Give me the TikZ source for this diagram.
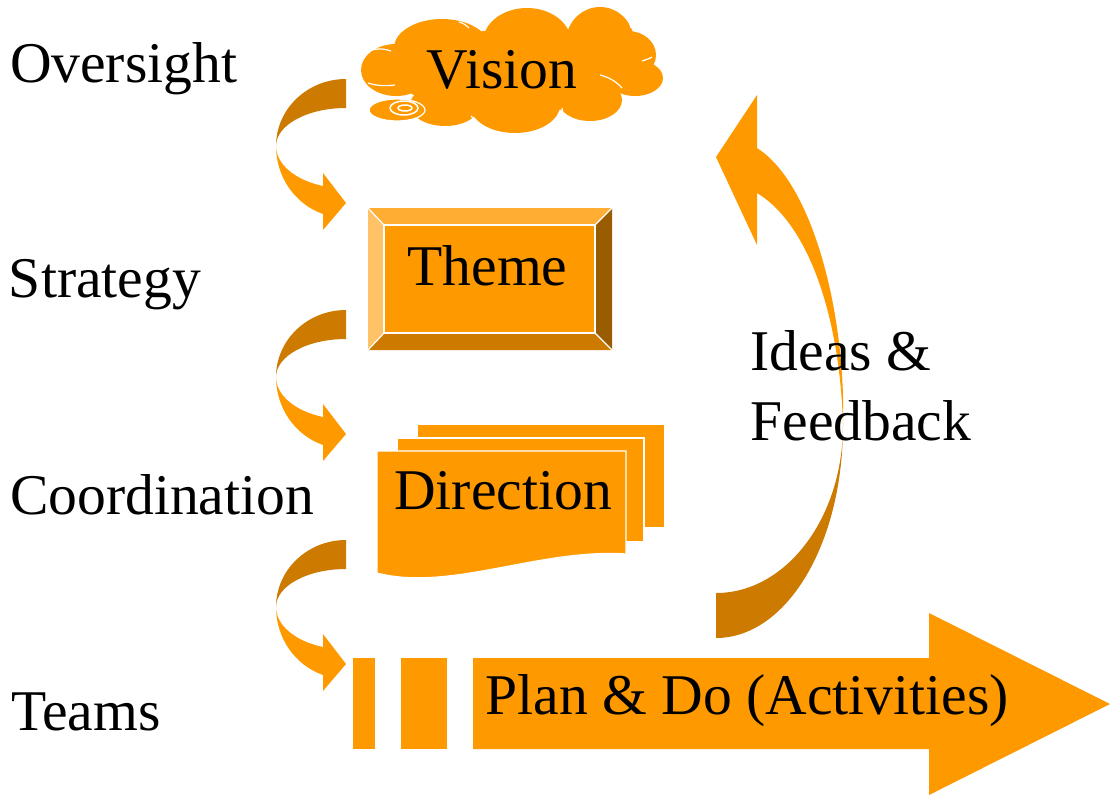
\documentclass[tikz,border=0pt]{standalone}
\usepackage{fontspec}
\setmainfont{Liberation Serif}
\definecolor{org}{RGB}{255,153,0}
\definecolor{orgdark}{RGB}{204,122,0}
\definecolor{orgtop}{RGB}{255,173,51}
\definecolor{orgleft}{RGB}{255,194,102}
\definecolor{orgright}{RGB}{153,92,0}
\begin{document}
\begin{tikzpicture}[x=1pt,y=-1pt,
  lbl/.style={inner sep=0pt, outer sep=0pt, font=\fontsize{57.6}{70}\selectfont},
  wline/.style={draw=white, line width=1.2pt},
  puff/.style={fill=org}]
\useasboundingbox (0,0) rectangle (1110,796);

% ---------- cloud (Vision) ----------
\fill[puff] (510,72) ellipse [x radius=115, y radius=42];
\fill[puff] (396,70) ellipse [x radius=35, y radius=26];
\fill[puff] (442,48) ellipse [x radius=48, y radius=29];
\fill[puff] (527,42) ellipse [x radius=44, y radius=34];
\fill[puff] (600,42) ellipse [x radius=34, y radius=35];
\fill[puff] (628,55) ellipse [x radius=28, y radius=24];
\fill[puff] (635,78) ellipse [x radius=28, y radius=18];
\fill[puff] (590,100) ellipse [x radius=32, y radius=21];
\fill[puff] (515,105) ellipse [x radius=45, y radius=28];
\fill[puff] (445,105) ellipse [x radius=35, y radius=21];
\filldraw[fill=org, wline] (397,110) ellipse [x radius=28, y radius=11];
\draw[wline, line width=1.5pt] (404,108) ellipse [x radius=14, y radius=7];
\draw[wline, line width=1.5pt] (405,108) ellipse [x radius=7, y radius=3];
% inner cloud arcs
\draw[wline] (368,83) .. controls (377,86) and (386,86) .. (395,85);
\draw[wline] (372,50) .. controls (379,48) and (385,49) .. (391,51);
\draw[wline] (459,22) .. controls (463,23) and (466,25) .. (469,28);
\draw[wline] (560,13) .. controls (563,15) and (565,17) .. (566,20);
\draw[wline] (627,19) .. controls (629,21) and (630,24) .. (631,28);
\draw[wline] (642,61) .. controls (645,60) and (649,59) .. (652,57);
\draw[wline] (600,75) .. controls (608,77) and (616,81) .. (622,88);
\draw[wline] (562,108) .. controls (563,111) and (563,114) .. (563,118);
\draw[wline] (471,116) .. controls (473,118) and (475,120) .. (477,123);
\node[lbl, anchor=base] (vision) at (502,88) {Vision};

% ---------- Theme (bevel) ----------
\fill[orgtop] (368,208) -- (612,208) -- (595,225) -- (384,225) -- cycle;
\fill[orgleft] (368,208) -- (384,225) -- (384,333) -- (368,350) -- cycle;
\fill[orgright] (612,208) -- (612,350) -- (595,333) -- (595,225) -- cycle;
\fill[orgdark] (368,350) -- (612,350) -- (595,333) -- (384,333) -- cycle;
\fill[org] (384,225) rectangle (595,333);
\draw[wline] (384,225) rectangle (595,333);
\draw[wline] (368,208) -- (384,225) (612,208) -- (595,225)
  (368,350) -- (384,333) (612,350) -- (595,333);
\node[lbl, anchor=base] (theme) at (487.5,285) {Theme};

% ---------- Direction (multidocument) ----------
\filldraw[fill=org, wline] (417,424) rectangle (665,528);
\filldraw[fill=org, wline] (397,438) rectangle (644,542);
\filldraw[fill=org, wline] (377,451) -- (626,451) -- (626,554)
  .. controls (540,548) and (450,592) .. (377,573) -- cycle;
\node[lbl, anchor=base] (direction) at (503,509) {Direction};

% ---------- curved down arrows ----------
\foreach \yy in {79,310,540}{
  \fill[orgdark] (346,\yy) .. controls (307.3,\yy) and (276,\yy+30) .. (276,\yy+67)
     .. controls (276,\yy+46) and (307.3,\yy+29) .. (346,\yy+29) -- cycle;
  \fill[org] (276,\yy+67) .. controls (276,\yy+97.7) and (294.7,\yy+125) .. (323,\yy+135)
     -- (323,\yy+151) -- (346,\yy+124) -- (323,\yy+94) -- (323,\yy+107)
     .. controls (294.7,\yy+101) and (276,\yy+85) .. (276,\yy+67) -- cycle;
}

% ---------- Ideas & Feedback arrow ----------
\fill[orgdark] (843,425) .. controls (843,545) and (786,638) .. (716,638)
   -- (716,593) .. controls (786,593) and (843,518) .. (843,425) -- cycle;
\fill[org] (843,425) .. controls (846,320) and (815,185) .. (757,148)
   -- (757,95) -- (716,157) -- (757,245) -- (757,193)
   .. controls (810,225) and (840,320) .. (843,425) -- cycle;
\node[lbl, anchor=base west] (ideas) at (750.5,370) {Ideas \&};
\node[lbl, anchor=base west] (feedback) at (750.5,440) {Feedback};

% ---------- Plan & Do arrow ----------
\fill[org] (353,658) rectangle (375,749);
\fill[org] (401,658) rectangle (447,749);
\fill[org] (473,658) -- (929,658) -- (929,613) -- (1110,704) -- (929,795)
   -- (929,749) -- (473,749) -- cycle;
\node[lbl, anchor=base west] (plan) at (485.5,714) {Plan \& Do (Activities)};

% ---------- level labels ----------
\node[lbl, anchor=base west] (oversight) at (10,82) {Oversight};
\node[lbl, anchor=base west] (strategy) at (9,297) {Strategy};
\node[lbl, anchor=base west] (coord) at (10,514) {Coordination};
\node[lbl, anchor=base west] (teams) at (11,730) {Teams};
\end{tikzpicture}
\end{document}
